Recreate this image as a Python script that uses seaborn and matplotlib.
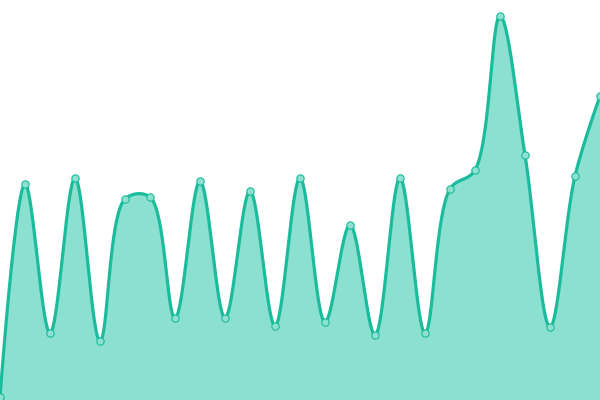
import numpy as np
import pandas as pd
import matplotlib
matplotlib.use("Agg")
import matplotlib.pyplot as plt
import seaborn as sns

# point positions and values
xs = [0, 25, 50, 75, 100, 125, 150, 175, 200, 225, 250, 275, 300,
      325, 350, 375, 400, 425, 450, 475, 500, 525, 550, 575, 600]
values = [3, 216, 67, 222, 59, 201, 203, 82, 219, 82, 209, 74, 222,
          78, 175, 65, 222, 67, 211, 230, 384, 245, 73, 224, 304]

line_color = "#1abc9c"
fill_color = "#8be0cf"


def catmull_rom(x, y, alpha=0.5, n=40):
    # centripetal catmull-rom, drawn as cubic beziers
    p = np.column_stack([x, y]).astype(float)
    p = np.vstack([p[0], p, p[-1]])
    t = np.linspace(0, 1, n, endpoint=False)[:, None]
    segs = []
    for i in range(1, len(p) - 2):
        p0, p1, p2, p3 = p[i - 1], p[i], p[i + 1], p[i + 2]
        l01 = np.hypot(*(p1 - p0)) ** alpha
        l12 = np.hypot(*(p2 - p1)) ** alpha
        l23 = np.hypot(*(p3 - p2)) ** alpha
        c1, c2 = p1.copy(), p2.copy()
        if l01 > 1e-9:
            a = 2 * l01**2 + 3 * l01 * l12 + l12**2
            m = 3 * l01 * (l01 + l12)
            c1 = (p1 * a - p0 * l12**2 + p2 * l01**2) / m
        if l23 > 1e-9:
            b = 2 * l23**2 + 3 * l23 * l12 + l12**2
            m = 3 * l23 * (l23 + l12)
            c2 = (p2 * b + p1 * l23**2 - p3 * l12**2) / m
        segs.append((1 - t)**3 * p1 + 3 * (1 - t)**2 * t * c1
                    + 3 * (1 - t) * t**2 * c2 + t**3 * p2)
    segs.append(p[-1][None, :])
    out = np.vstack(segs)
    return out[:, 0], out[:, 1]


cx, cy = catmull_rom(xs, values)
curve = pd.DataFrame({"x": cx, "y": cy})
pts = pd.DataFrame({"x": xs, "y": values})

fig = plt.figure(figsize=(6, 4), dpi=100)
ax = fig.add_axes([0, 0, 1, 1])

ax.fill_between(cx, cy, 0, color=fill_color, lw=0)
sns.lineplot(data=curve, x="x", y="y", ax=ax, color=line_color, lw=2.3,
             sort=False, estimator=None)
sns.scatterplot(data=pts, x="x", y="y", ax=ax, color="#8ee0d0",
                edgecolor=line_color, linewidth=0.8, s=28, zorder=3)

ax.set_xlim(0, 600)
ax.set_ylim(0, 400)
ax.axis("off")

plt.savefig("out.png", dpi=100)
